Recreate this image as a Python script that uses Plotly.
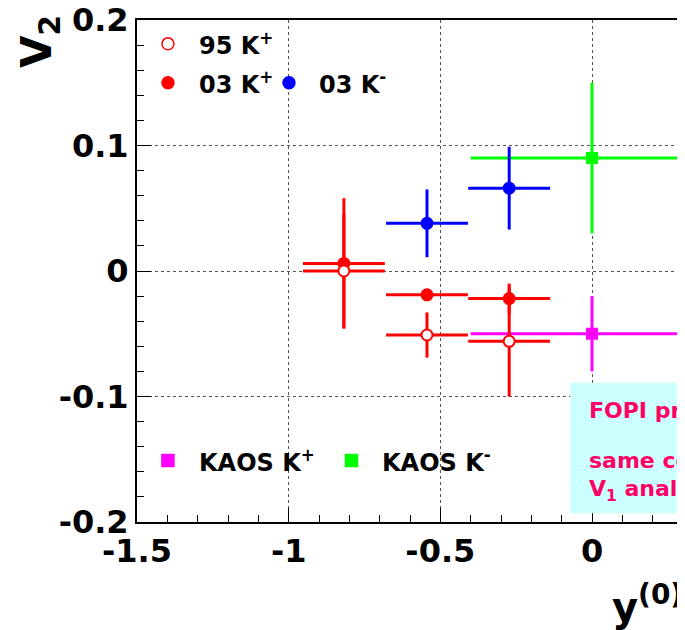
import plotly.graph_objects as go

# ---- data ----
y95 = [-0.818, -0.544, -0.273]
v95 = [0.0, -0.051, -0.056]
e95 = [0.045, 0.018, 0.044]

y03p = [-0.818, -0.544, -0.273]
v03p = [0.006, -0.019, -0.022]
e03p = [0.052, 0.004, 0.012]

y03m = [-0.544, -0.273]
v03m = [0.038, 0.066]
e03m = [0.027, 0.033]

xerr_fopi = 0.135

ykaos = [0.0]
vkaosp = [-0.050]
ekaosp = [0.030]
vkaosm = [0.090]
ekaosm = [0.060]
xerr_kaos = 0.4

xticks = [-1.5, -1, -0.5, 0]
yticks = [-0.2, -0.1, 0, 0.1, 0.2]

FONT = "DejaVu Sans"
RED = "#ff0000"
BLUE = "#0000ff"
GREEN = "#00ff00"
MAG = "#ff00ff"
BOXTXT = "#ff0066"

# page has an 8px body margin; work in page pixels and convert
OFF = 8
W, H = 685 - OFF, 630 - OFF
L, R, T, B = 137 - OFF, 683 - OFF, 20 - OFF, 522 - OFF

def px(xp):
    return (xp - OFF - L) / (R - L)

def py(yp):
    return (B - (yp - OFF)) / (B - T)

fig = go.Figure()

def add_pts(x, y, ey, exv, color, symbol, size, fill):
    fig.add_trace(go.Scatter(
        x=x, y=y, mode="markers",
        marker=dict(symbol=symbol, size=size, color=fill,
                    line=dict(color=color, width=2)),
        error_y=dict(type="data", array=ey, color=color, thickness=3, width=0),
        error_x=dict(type="data", array=[exv] * len(x), color=color, thickness=3, width=0),
        showlegend=False, cliponaxis=True))

# KAOS first (under)
add_pts(ykaos, vkaosp, ekaosp, xerr_kaos, MAG, "square", 10, MAG)
add_pts(ykaos, vkaosm, ekaosm, xerr_kaos, GREEN, "square", 10, GREEN)
add_pts(y03m, v03m, e03m, xerr_fopi, BLUE, "circle", 11, BLUE)
add_pts(y03p, v03p, e03p, xerr_fopi, RED, "circle", 11, RED)
add_pts(y95, v95, e95, xerr_fopi, RED, "circle", 11, "white")

# legend glyphs (data coordinates of the legend area)
leg = [
    (-1.398, 0.181, RED, "circle", 12, "white"),
    (-1.398, 0.150, RED, "circle", 12, RED),
    (-0.999, 0.150, BLUE, "circle", 12, BLUE),
    (-1.398, -0.151, MAG, "square", 12, MAG),
    (-0.793, -0.151, GREEN, "square", 12, GREEN),
]
for lx, ly, c, s, sz, f in leg:
    fig.add_trace(go.Scatter(x=[lx], y=[ly], mode="markers",
                             marker=dict(symbol=s, size=sz, color=f, line=dict(color=c, width=1.5)),
                             showlegend=False))

legtext = [
    (-1.303, 0.181, "95 K<sup>+</sup>"),
    (-1.303, 0.150, "03 K<sup>+</sup>"),
    (-0.905, 0.150, "03 K<sup>-</sup>"),
    (-1.303, -0.151, "KAOS K<sup>+</sup>"),
    (-0.700, -0.151, "KAOS K<sup>-</sup>"),
]
for tx, ty, t in legtext:
    fig.add_annotation(x=tx, y=ty, xref="x", yref="y", text=t, showarrow=False,
                       xanchor="left", yanchor="middle",
                       font=dict(family=FONT, size=24, color="black", weight="bold"))

# info box
fig.add_shape(type="rect", xref="x", yref="y", x0=-0.072, x1=0.5, y0=-0.193, y1=-0.089,
              fillcolor="#ccffff", line=dict(width=0), layer="above")
boxlines = [(-0.111, "FOPI preliminary"), (-0.151, "same conditions as"), (-0.175, "V<sub>1</sub> analysis")]
for by, t in boxlines:
    fig.add_annotation(x=-0.017, y=by, xref="x", yref="y", text=t, showarrow=False,
                       xanchor="left", yanchor="middle",
                       font=dict(family=FONT, size=22, color=BOXTXT, weight="bold"))

# axis titles
fig.add_annotation(x=px(40), y=py(42), xref="paper", yref="paper",
                   text="V<sub>2</sub>", textangle=-90, showarrow=False,
                   xanchor="center", yanchor="middle",
                   font=dict(family=FONT, size=42, color="black", weight="bold"))
fig.add_annotation(x=px(685), y=py(604), xref="paper", yref="paper",
                   text="y<sup>(0)</sup>", showarrow=False,
                   xanchor="right", yanchor="middle",
                   font=dict(family=FONT, size=40, color="black", weight="bold"))

axis_common = dict(showline=True, linewidth=2, linecolor="black", mirror=True,
                   ticks="inside", ticklen=14, tickwidth=1, tickcolor="black",
                   showgrid=True, gridcolor="#555555", gridwidth=1, griddash="dot",
                   zeroline=False, automargin=False, ticklabeloverflow="allow",
                   tickfont=dict(family=FONT, size=32, color="black", weight="bold"))

fig.update_xaxes(range=[-1.5, 0.3], tickvals=xticks, ticktext=["-1.5", "-1", "-0.5", "0"],
                 minor=dict(dtick=0.1, tick0=0, ticks="inside", ticklen=7, tickcolor="black",
                            showgrid=False),
                 **axis_common)
fig.update_yaxes(range=[-0.2, 0.2], tickvals=yticks, ticktext=["-0.2", "-0.1", "0", "0.1", "0.2"],
                 minor=dict(dtick=0.02, tick0=0, ticks="inside", ticklen=7, tickcolor="black",
                            showgrid=False),
                 **axis_common)

fig.update_layout(width=W, height=H,
                  margin=dict(l=L, r=W - R, t=T, b=H - B, autoexpand=False),
                  paper_bgcolor="white", plot_bgcolor="white",
                  showlegend=False)

fig.write_html("out.html")
